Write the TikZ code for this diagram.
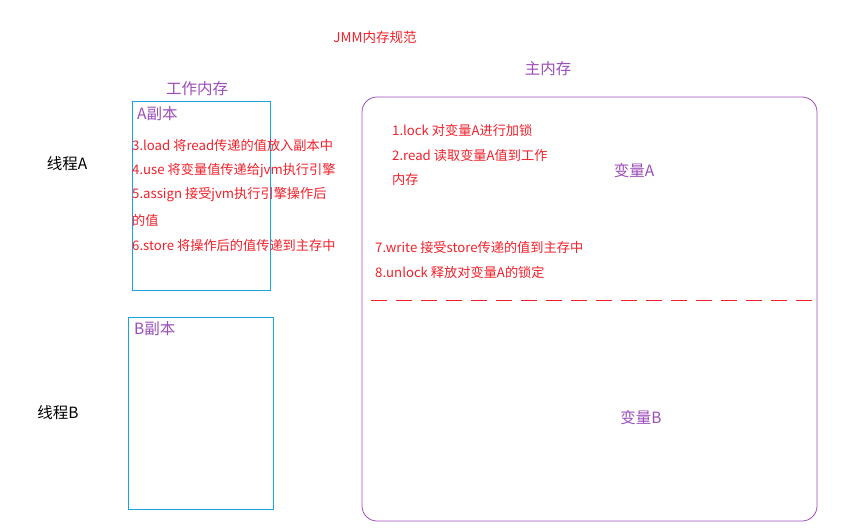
\documentclass[tikz,border=0pt]{standalone}
\usepackage{fontspec}
\setmainfont{Noto Sans CJK SC}
\definecolor{jmmred}{HTML}{F0202A}
\definecolor{jmmpurple}{HTML}{9B4DB8}
\definecolor{jmmblue}{HTML}{1AA3E0}
\tikzset{
  optext/.style={anchor=west, inner sep=0pt, text=jmmred, font=\fontsize{13.2}{15}\selectfont},
  areatitle/.style={inner sep=0pt, text=jmmpurple, font=\fontsize{15.5}{17}\selectfont},
  threadlabel/.style={inner sep=0pt, text=black, font=\fontsize{15.5}{17}\selectfont},
  copybox/.style={draw=jmmblue, line width=0.8pt},
}
\begin{document}
\begin{tikzpicture}[x=1pt, y=-1pt]
    \useasboundingbox (0,0) rectangle (853,527);

    % Title
    \node[inner sep=0pt, text=jmmred, font=\fontsize{13.5}{15}\selectfont] (title) at (375,37) {JMM内存规范};

    % Working memory
    \node[areatitle] (workmem) at (197,89) {工作内存};
    \draw[copybox] (132,101) rectangle (270,290);
    \node[areatitle, anchor=west] (copyA) at (137,114) {A副本};
    \node[optext] (opload)   at (132,145) {3.load 将read传递的值放入副本中};
    \node[optext] (opuse)    at (132,170) {4.use 将变量值传递给jvm执行引擎};
    \node[optext] (opassign) at (132,195) {5.assign 接受jvm执行引擎操作后};
    \node[optext] (opassignb) at (132,220) {的值};
    \node[optext] (opstore)  at (132,245) {6.store 将操作后的值传递到主存中};

    \draw[copybox] (128,317) rectangle (273,509);
    \node[areatitle, anchor=west] (copyB) at (134,329) {B副本};

    % Threads
    \node[threadlabel] (threadA) at (67,164) {线程A};
    \node[threadlabel] (threadB) at (58,413) {线程B};

    % Main memory
    \node[areatitle] (mainmem) at (548,69) {主内存};
    \draw[jmmpurple, line width=0.8pt, rounded corners=15pt] (362,97) rectangle (817,521);
    \node[optext] (oplock)  at (392,130) {1.lock 对变量A进行加锁};
    \node[optext] (opread)  at (392,155) {2.read 读取变量A值到工作};
    \node[optext] (opreadb) at (392,179) {内存};
    \node[areatitle] (varA) at (634,171) {变量A};
    \node[optext] (opwrite)  at (375,247) {7.write 接受store传递的值到主存中};
    \node[optext] (opunlock) at (375,272) {8.unlock 释放对变量A的锁定};
    \draw[jmmred, line width=0.8pt, dash pattern=on 16pt off 9pt] (371,300) -- (815,300);
    \node[areatitle] (varB) at (641,418) {变量B};
\end{tikzpicture}
\end{document}
